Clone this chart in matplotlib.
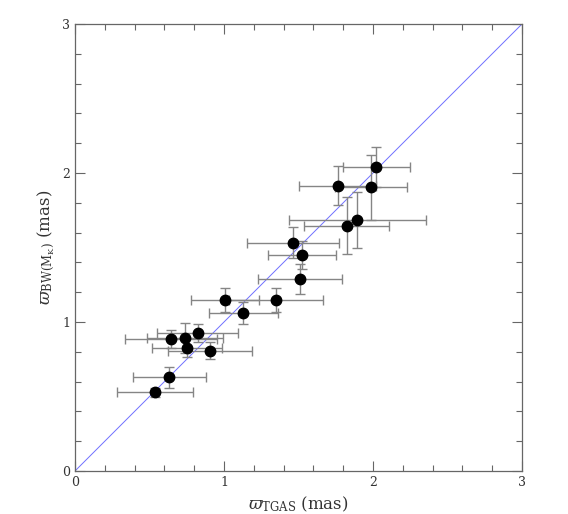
import matplotlib.pyplot as plt
import numpy as np
from matplotlib.ticker import MultipleLocator

# parallaxes (mas)
plx_tgas = [0.537, 0.633, 0.644, 0.737, 0.823, 0.752, 0.906,
            1.007, 1.349, 1.130, 1.465, 1.523, 1.512, 1.823,
            1.895, 1.763, 1.985, 2.022]
plx_bw = [0.530, 0.629, 0.884, 0.890, 0.926, 0.828, 0.807,
          1.148, 1.148, 1.058, 1.532, 1.450, 1.290, 1.646,
          1.685, 1.915, 1.904, 2.038]
err_tgas = [0.257, 0.245, 0.307, 0.257, 0.27, 0.237, 0.28,
            0.23, 0.317, 0.23, 0.31, 0.23, 0.282, 0.285,
            0.46, 0.26, 0.24, 0.224]
err_bw = [0.03, 0.072, 0.06, 0.1, 0.063, 0.065, 0.056,
          0.08, 0.08, 0.074, 0.105, 0.096, 0.1, 0.19,
          0.19, 0.133, 0.22, 0.135]

plt.rcParams['font.family'] = 'DejaVu Serif'
plt.rcParams['mathtext.fontset'] = 'dejavuserif'

fig = plt.figure(figsize=(5.68, 5.14), dpi=100)
ax = fig.add_axes([75/568, 43/514, 447/568, 447/514])

ax.plot([0, 3], [0, 3], color='#7070ff', lw=0.7, zorder=1)
ax.errorbar(plx_tgas, plx_bw, xerr=err_tgas, yerr=err_bw, fmt='o',
            color='black', ms=7.5, ecolor='#858585', elinewidth=1.0,
            capsize=3.5, capthick=1.0, zorder=3)

ax.set_xlim(0, 3)
ax.set_ylim(0, 3)
ax.xaxis.set_major_locator(MultipleLocator(1))
ax.yaxis.set_major_locator(MultipleLocator(1))
ax.xaxis.set_minor_locator(MultipleLocator(0.2))
ax.yaxis.set_minor_locator(MultipleLocator(0.2))
ax.tick_params(which='both', direction='in', top=True, right=True,
               color='#666666', labelsize=9, labelcolor='#333333')
ax.tick_params(which='major', length=7, width=0.8)
ax.tick_params(which='minor', length=4, width=0.8)
for s in ax.spines.values():
    s.set_color('#666666')
    s.set_linewidth(0.9)

ax.set_xlabel(r'$\varpi_{\rm TGAS}$ (mas)', fontsize=12, color='#333333')
ax.set_ylabel(r'$\varpi_{\rm BW(M_K)}$ (mas)', fontsize=12, color='#333333')

fig.savefig('out.png', dpi=100)
